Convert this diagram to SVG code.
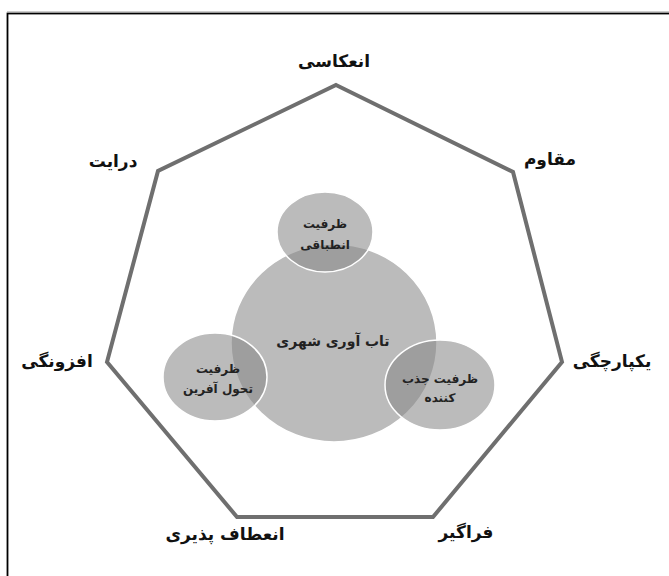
<svg xmlns="http://www.w3.org/2000/svg" width="669" height="576" viewBox="0 0 669 576">
<style>
.lbl{font-family:"DejaVu Sans","Noto Sans",sans-serif;font-weight:bold;font-size:17px;fill:#111;text-anchor:middle}
.in{font-family:"DejaVu Sans","Noto Sans",sans-serif;font-weight:bold;font-size:12px;fill:#222;text-anchor:middle}
.c{fill:#8a8a8a;fill-opacity:0.58;stroke:#ffffff;stroke-width:1.5}
</style>
<rect x="0" y="0" width="669" height="576" fill="#ffffff"/>
<rect x="7.5" y="13.5" width="700" height="600" fill="none" stroke="#000" stroke-width="1.8"/>
<line x1="7" y1="11.5" x2="669" y2="11.5" stroke="#cccccc" stroke-width="1"/>
<g id="heptagon">
<polygon points="336,85 513,172 562,362 433,517 237,517 107,362 158,171" fill="none" stroke="#6f6f6f" stroke-width="4" stroke-linejoin="miter"/>
</g>
<g id="circles">
<g id="center"><ellipse class="c" cx="334" cy="343" rx="103" ry="99"/></g>
<g id="top"><ellipse class="c" cx="325" cy="232" rx="48" ry="40"/></g>
<g id="left"><ellipse class="c" cx="215" cy="377" rx="52" ry="44"/></g>
<g id="right"><ellipse class="c" cx="440" cy="385" rx="55" ry="45"/></g>
</g>
<g id="inner-labels">
<text class="in" direction="rtl" x="325" y="228">ظرفیت</text>
<text class="in" direction="rtl" x="325" y="249">انطباقی</text>
<text class="in" direction="rtl" x="333" y="346" style="font-size:14px">تاب آوری شهری</text>
<text class="in" direction="rtl" x="218" y="373">ظرفیت</text>
<text class="in" direction="rtl" x="218" y="393">تحول آفرین</text>
<text class="in" direction="rtl" x="440" y="383">ظرفیت جذب</text>
<text class="in" direction="rtl" x="440" y="402">کننده</text>
</g>
<g id="outer-labels">
<g id="n-top"><text class="lbl" direction="rtl" x="334" y="67">انعکاسی</text></g>
<g id="n-ur"><text class="lbl" direction="rtl" x="550" y="165">مقاوم</text></g>
<g id="n-ul"><text class="lbl" direction="rtl" x="113" y="167">درایت</text></g>
<g id="n-l"><text class="lbl" direction="rtl" x="57" y="367">افزونگی</text></g>
<g id="n-r"><text class="lbl" direction="rtl" x="612" y="367">یکپارچگی</text></g>
<g id="n-bl"><text class="lbl" direction="rtl" x="225" y="540">انعطاف پذیری</text></g>
<g id="n-br"><text class="lbl" direction="rtl" x="466" y="538">فراگیر</text></g>
</g>
</svg>
